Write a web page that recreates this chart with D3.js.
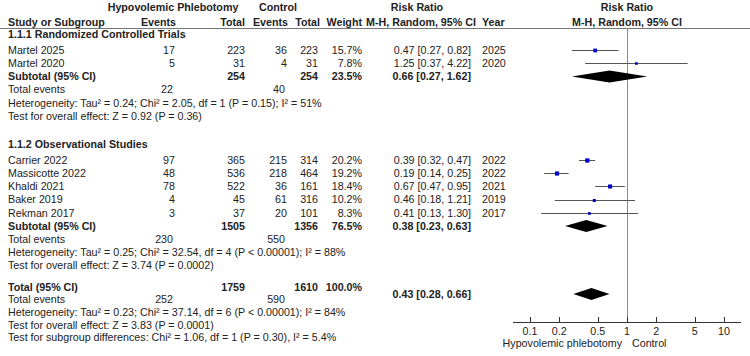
<!DOCTYPE html>
<html>
<head>
<meta charset="utf-8">
<script src="https://cdn.jsdelivr.net/npm/d3@7"></script>
<style>
  body { margin: 0; background: #fff; }
  text { font-family: "Liberation Sans", Arial, sans-serif; font-size: 10.7px; fill: #222; }
  .b { font-weight: bold; }
</style>
</head>
<body>
<div id="content"></div>
<script>
// studies
const studyNames = ["Martel 2025", "Martel 2020", "Carrier 2022", "Massicotte 2022", "Khaldi 2021", "Baker 2019", "Rekman 2017"];
const studyGroup = [0, 0, 1, 1, 1, 1, 1];
const phlebEvents = [17, 5, 97, 48, 78, 4, 3];
const phlebTotal = [223, 31, 365, 536, 522, 45, 37];
const ctrlEvents = [36, 4, 215, 218, 36, 61, 20];
const ctrlTotal = [223, 31, 314, 464, 161, 316, 101];
const weights = [15.7, 7.8, 20.2, 19.2, 18.4, 10.2, 8.3];
const rr = [0.47, 1.25, 0.39, 0.19, 0.67, 0.46, 0.41];
const rrLow = [0.27, 0.37, 0.32, 0.14, 0.47, 0.18, 0.13];
const rrHigh = [0.82, 4.22, 0.47, 0.25, 0.95, 1.21, 1.30];
const years = [2025, 2020, 2022, 2022, 2021, 2019, 2017];

// subgroups
const groupNames = ["1.1.1 Randomized Controlled Trials", "1.1.2 Observational Studies"];
const groupPhlebTotal = [254, 1505];
const groupCtrlTotal = [254, 1356];
const groupPhlebEvents = [22, 230];
const groupCtrlEvents = [40, 550];
const groupWeight = [23.5, 76.5];
const groupRR = [0.66, 0.38];
const groupLow = [0.27, 0.23];
const groupHigh = [1.62, 0.63];
const groupHet = [
  "Heterogeneity: Tau² = 0.24; Chi² = 2.05, df = 1 (P = 0.15); I² = 51%",
  "Heterogeneity: Tau² = 0.25; Chi² = 32.54, df = 4 (P < 0.00001); I² = 88%"
];
const groupTest = ["Test for overall effect: Z = 0.92 (P = 0.36)", "Test for overall effect: Z = 3.74 (P = 0.0002)"];

// overall
const totalPhleb = 1759, totalCtrl = 1610, totalWeight = 100.0;
const totalRR = 0.43, totalLow = 0.28, totalHigh = 0.66;
const totalPhlebEvents = 252, totalCtrlEvents = 590;
const totalNotes = [
  "Heterogeneity: Tau² = 0.23; Chi² = 37.14, df = 6 (P < 0.00001); I² = 84%",
  "Test for overall effect: Z = 3.83 (P = 0.0001)",
  "Test for subgroup differences: Chi² = 1.06, df = 1 (P = 0.30), I² = 5.4%"
];
const axisTicks = [0.1, 0.2, 0.5, 1, 2, 5, 10];

const W = 750, H = 356;
const col = { name: 8, e1: 175, n1: 245, e2: 287, n2: 318, w: 362, rr: 471, year: 482 };
const fmt = v => v.toFixed(2);
const ciText = (e, l, h) => `${fmt(e)} [${fmt(l)}, ${fmt(h)}]`;

// build rows, walking down the table
const rows = [];
let y = 34;
groupNames.forEach((g, gi) => {
  rows.push({ type: "group", y, label: g });
  y += 16;
  studyNames.forEach((s, i) => {
    if (studyGroup[i] !== gi) return;
    rows.push({ type: "study", y, i });
    y += 13.2;
  });
  rows.push({ type: "subtotal", y, gi }); y += 13.2;
  rows.push({ type: "events", y, a: groupPhlebEvents[gi], b: groupCtrlEvents[gi] }); y += 13.2;
  rows.push({ type: "note", y, label: groupHet[gi] }); y += 13.2;
  rows.push({ type: "note", y, label: groupTest[gi] });
  y += gi === 0 ? 28 : 21.4;
});
rows.push({ type: "total", y }); y += 12.6;
rows.push({ type: "events", y, a: totalPhlebEvents, b: totalCtrlEvents }); y += 12.6;
totalNotes.forEach(n => { rows.push({ type: "note", y, label: n }); y += 12.6; });

const x = d3.scaleLog().domain([0.1, 10]).range([530, 724]);
const axisY = 322;

const svg = d3.select("#content").append("svg").attr("width", W).attr("height", H);
svg.append("rect").attr("width", W).attr("height", H).attr("fill", "#fff");

function txt(xp, yp, s, anchor, bold) {
  svg.append("text").attr("x", xp).attr("y", yp).attr("dy", "0.36em")
    .attr("text-anchor", anchor || "start").attr("class", bold ? "b" : null).text(s);
}

// header
txt(173, 7, "Hypovolemic Phlebotomy", "middle", true);
txt(278, 7, "Control", "middle", true);
txt(417, 7, "Risk Ratio", "middle", true);
txt(627, 7, "Risk Ratio", "middle", true);
txt(col.name, 22, "Study or Subgroup", "start", true);
txt(col.e1 + 1, 22, "Events", "end", true);
txt(col.n1, 22, "Total", "end", true);
txt(col.e2 + 1, 22, "Events", "end", true);
txt(col.n2 + 2, 22, "Total", "end", true);
txt(col.w, 22, "Weight", "end", true);
txt(421, 22, "M-H, Random, 95% CI", "middle", true);
txt(col.year, 22, "Year", "start", true);
txt(627, 22, "M-H, Random, 95% CI", "middle", true);
svg.append("line").attr("x1", 0).attr("x2", W).attr("y1", 28.5).attr("y2", 28.5)
  .attr("stroke", "#777").attr("stroke-width", 1);

// line of no effect
svg.append("line").attr("x1", Math.round(x(1)) + 0.5).attr("x2", Math.round(x(1)) + 0.5)
  .attr("y1", 29).attr("y2", axisY).attr("stroke", "#888").attr("stroke-width", 1);

function diamond(yc, e, l, h) {
  const pts = [[x(l), yc], [x(e), yc - 6], [x(h), yc], [x(e), yc + 6]];
  svg.append("path").attr("d", "M" + pts.join("L") + "Z").attr("fill", "#000");
}

rows.forEach(r => {
  if (r.type === "group") {
    txt(col.name, r.y, r.label, "start", true);
  } else if (r.type === "study") {
    const i = r.i;
    txt(col.name, r.y, studyNames[i]);
    txt(col.e1, r.y, phlebEvents[i], "end");
    txt(col.n1, r.y, phlebTotal[i], "end");
    txt(col.e2, r.y, ctrlEvents[i], "end");
    txt(col.n2, r.y, ctrlTotal[i], "end");
    txt(col.w, r.y, weights[i].toFixed(1) + "%", "end");
    txt(col.rr, r.y, ciText(rr[i], rrLow[i], rrHigh[i]), "end");
    txt(col.year, r.y, years[i]);
    const yy = Math.round(r.y) + 0.5;
    svg.append("line").attr("x1", x(rrLow[i])).attr("x2", x(rrHigh[i]))
      .attr("y1", yy).attr("y2", yy).attr("stroke", "#555").attr("stroke-width", 1);
    const s = Math.sqrt(weights[i]) * 0.95;
    svg.append("rect").attr("x", x(rr[i]) - s / 2).attr("y", yy - s / 2)
      .attr("width", s).attr("height", s).attr("fill", "#0000c8");
  } else if (r.type === "subtotal") {
    const gi = r.gi;
    txt(col.name, r.y, "Subtotal (95% CI)", "start", true);
    txt(col.n1, r.y, groupPhlebTotal[gi], "end", true);
    txt(col.n2, r.y, groupCtrlTotal[gi], "end", true);
    txt(col.w, r.y, groupWeight[gi].toFixed(1) + "%", "end", true);
    txt(col.rr, r.y, ciText(groupRR[gi], groupLow[gi], groupHigh[gi]), "end", true);
    diamond(r.y, groupRR[gi], groupLow[gi], groupHigh[gi]);
  } else if (r.type === "events") {
    txt(col.name, r.y, "Total events");
    txt(col.e1 - 2, r.y, r.a, "end");
    txt(col.e2 - 2, r.y, r.b, "end");
  } else if (r.type === "note") {
    txt(col.name, r.y, r.label);
  } else if (r.type === "total") {
    txt(col.name, r.y, "Total (95% CI)", "start", true);
    txt(col.n1, r.y, totalPhleb, "end", true);
    txt(col.n2, r.y, totalCtrl, "end", true);
    txt(col.w, r.y, totalWeight.toFixed(1) + "%", "end", true);
    txt(col.rr, r.y + 7, ciText(totalRR, totalLow, totalHigh), "end", true);
    diamond(r.y + 7, totalRR, totalLow, totalHigh);
  }
});

// axis
const axis = svg.append("g").attr("transform", `translate(0,${axisY})`);
axis.append("line").attr("x1", 513).attr("x2", 741).attr("y1", 0.5).attr("y2", 0.5)
  .attr("stroke", "#333");
axis.selectAll(".tk").data(axisTicks).enter().append("line")
  .attr("x1", d => Math.round(x(d)) + 0.5).attr("x2", d => Math.round(x(d)) + 0.5)
  .attr("y1", -5).attr("y2", 1).attr("stroke", "#333");
axis.selectAll(".tl").data(axisTicks).enter().append("text")
  .attr("x", d => x(d)).attr("y", 9).attr("dy", "0.36em").attr("text-anchor", "middle")
  .text(d => d);
txt(622, 343, "Hypovolemic phlebotomy", "end");
txt(632, 343, "Control", "start");
</script>
</body>
</html>
